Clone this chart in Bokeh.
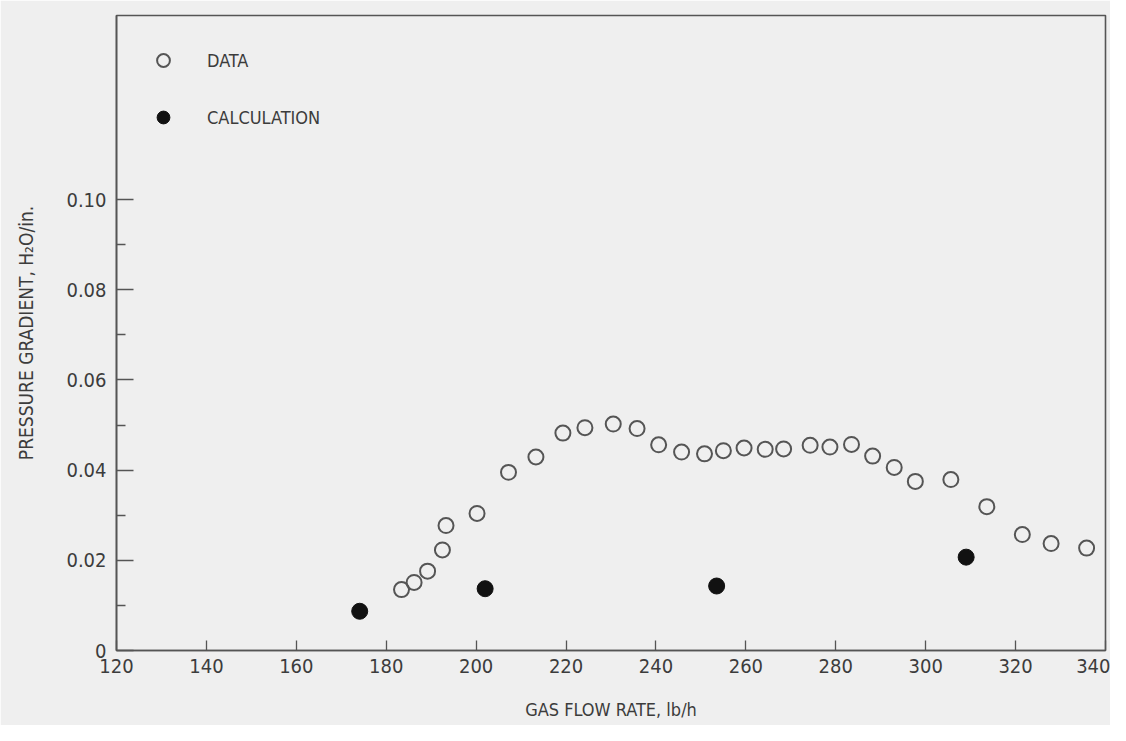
from bokeh.plotting import figure
from bokeh.models import Range1d, FixedTicker, Legend, LegendItem
from bokeh.embed import file_html
from bokeh.resources import INLINE

# Measured data (open circles)
data_flow = [183.4, 186.2, 189.2, 192.5, 193.3, 200.2, 207.2, 213.3, 219.3, 224.2,
             230.5, 235.8, 240.6, 245.7, 250.8, 255.0, 259.6, 264.3, 268.4, 274.3,
             278.7, 283.5, 288.2, 293.0, 297.7, 305.6, 313.6, 321.5, 327.9, 335.8]
data_grad = [0.0135, 0.0151, 0.0176, 0.0223, 0.0277, 0.0304, 0.0395, 0.0429, 0.0482, 0.0494,
             0.0502, 0.0492, 0.0456, 0.0440, 0.0436, 0.0443, 0.0449, 0.0446, 0.0447, 0.0455,
             0.0451, 0.0457, 0.0431, 0.0406, 0.0375, 0.0379, 0.0319, 0.0257, 0.0237, 0.0227]

# Calculation (filled circles)
calc_flow = [174.1, 202.0, 253.5, 309.0]
calc_grad = [0.0087, 0.0137, 0.0143, 0.0207]

x_ticks = [120, 140, 160, 180, 200, 220, 240, 260, 280, 300, 320, 340]
y_ticks = [0, 0.02, 0.04, 0.06, 0.08, 0.10]
y_minor = [0.01, 0.03, 0.05, 0.07, 0.09]

FONT = "DejaVu Sans Condensed, Liberation Sans, sans-serif"
INK = "#3c3c3c"
BG = "#efefef"

p = figure(width=1110, height=725, output_backend="svg", toolbar_location=None,
           x_range=Range1d(120, 340), y_range=Range1d(0, 0.1408),
           min_border_left=116, min_border_right=5, min_border_top=15, min_border_bottom=75,
           background_fill_color=BG, border_fill_color=BG)

p.grid.visible = False
p.outline_line_color = "#555555"
p.outline_line_width = 1.6

# x axis
xa = p.xaxis[0]
xa.ticker = FixedTicker(ticks=x_ticks)
xa.major_tick_in = 10
xa.major_tick_out = 0
xa.minor_tick_in = 0
xa.minor_tick_out = 0
xa.axis_line_color = "#555555"
xa.axis_line_width = 1.6
xa.major_tick_line_color = "#555555"
xa.major_tick_line_width = 1.3
xa.major_label_standoff = 8
xa.major_label_text_font = FONT
xa.major_label_text_font_size = "20px"
xa.major_label_text_color = INK
xa.axis_label = "GAS FLOW RATE, lb/h"
xa.axis_label_text_font = FONT
xa.axis_label_text_font_size = "18px"
xa.axis_label_text_font_style = "normal"
xa.axis_label_text_color = INK
xa.axis_label_standoff = 23

# y axis
ya = p.yaxis[0]
ya.ticker = FixedTicker(ticks=y_ticks, minor_ticks=y_minor)
ya.major_tick_in = 17
ya.major_tick_out = 0
ya.minor_tick_in = 9
ya.minor_tick_out = 0
ya.axis_line_color = "#555555"
ya.axis_line_width = 1.6
ya.major_tick_line_color = "#555555"
ya.major_tick_line_width = 1.3
ya.minor_tick_line_color = "#555555"
ya.minor_tick_line_width = 1.3
ya.major_label_overrides = {0: "0", 0.02: "0.02", 0.04: "0.04", 0.06: "0.06",
                            0.08: "0.08", 0.1: "0.10"}
ya.major_label_standoff = 10
ya.major_label_text_font = FONT
ya.major_label_text_font_size = "20px"
ya.major_label_text_color = INK
ya.axis_label = "PRESSURE GRADIENT, H\u2082O/in."
ya.axis_label_text_font = FONT
ya.axis_label_text_font_size = "19px"
ya.axis_label_text_font_style = "normal"
ya.axis_label_text_color = INK
ya.axis_label_standoff = 26

r_data = p.scatter(data_flow, data_grad, marker="circle", size=15,
                   fill_color=None, line_color="#555555", line_width=2)
r_calc = p.scatter(calc_flow, calc_grad, marker="circle", size=16,
                   fill_color="#111111", line_color="#111111", line_width=1)

legend = Legend(items=[LegendItem(label="DATA", renderers=[r_data]),
                       LegendItem(label="CALCULATION", renderers=[r_calc])],
                location=(31, 517))
legend.background_fill_alpha = 0
legend.border_line_color = None
legend.padding = 0
legend.margin = 0
legend.glyph_width = 32
legend.glyph_height = 32
legend.label_height = 32
legend.spacing = 25
legend.label_standoff = 28
legend.label_text_font = FONT
legend.label_text_font_size = "18px"
legend.label_text_color = INK
p.add_layout(legend)

open("out.html", "w").write(file_html(p, INLINE))
